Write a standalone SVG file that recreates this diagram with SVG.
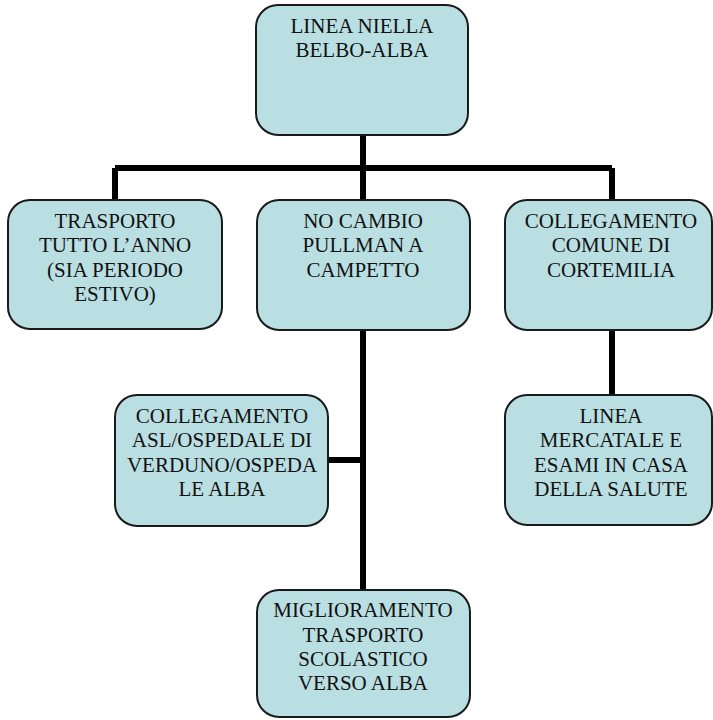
<svg xmlns="http://www.w3.org/2000/svg" width="713" height="720" viewBox="0 0 713 720">
<style>
.box{fill:#badfe2;stroke:#1a1a1a;stroke-width:2}
.t{font-family:'Liberation Serif','Times New Roman',serif;font-size:21px;fill:#111;text-anchor:middle}
.c{fill:none;stroke:#000;stroke-width:6}
</style>
<rect width="713" height="720" fill="#fff"/>
<g id="connectors">
<path class="c" d="M363 135V168M115 168H612M115 168V200M363 168V200M612 168V200"/>
<path class="c" d="M363 330V590M328 460H363"/>
<path class="c" d="M612 330V395"/>
</g>
<g id="n1"><rect class="box" x="256" y="5" width="212" height="130" rx="22"/>
<text class="t"><tspan x="362" y="33">LINEA NIELLA</tspan><tspan x="362" y="57">BELBO-ALBA</tspan></text></g>
<g id="n2"><rect class="box" x="8" y="200" width="214" height="129" rx="22"/>
<text class="t"><tspan x="115" y="228">TRASPORTO</tspan><tspan x="115" y="252">TUTTO L’ANNO</tspan><tspan x="115" y="277">(SIA PERIODO</tspan><tspan x="115" y="301">ESTIVO)</tspan></text></g>
<g id="n3"><rect class="box" x="257" y="200" width="213" height="130" rx="22"/>
<text class="t"><tspan x="363" y="228">NO CAMBIO</tspan><tspan x="363" y="252">PULLMAN A</tspan><tspan x="363" y="277">CAMPETTO</tspan></text></g>
<g id="n4"><rect class="box" x="505" y="200" width="207" height="130" rx="22"/>
<text class="t"><tspan x="611" y="228">COLLEGAMENTO</tspan><tspan x="611" y="252">COMUNE DI</tspan><tspan x="611" y="277">CORTEMILIA</tspan></text></g>
<g id="n5"><rect class="box" x="115" y="395" width="213" height="131" rx="22"/>
<text class="t"><tspan x="222" y="423">COLLEGAMENTO</tspan><tspan x="222" y="447">ASL/OSPEDALE DI</tspan><tspan x="222" y="472">VERDUNO/OSPEDA</tspan><tspan x="222" y="496">LE ALBA</tspan></text></g>
<g id="n6"><rect class="box" x="505" y="395" width="207" height="130" rx="22"/>
<text class="t"><tspan x="611" y="423">LINEA</tspan><tspan x="611" y="447">MERCATALE E</tspan><tspan x="611" y="472">ESAMI IN CASA</tspan><tspan x="611" y="496">DELLA SALUTE</tspan></text></g>
<g id="n7"><rect class="box" x="257" y="590" width="213" height="127" rx="22"/>
<text class="t"><tspan x="363" y="617">MIGLIORAMENTO</tspan><tspan x="363" y="642">TRASPORTO</tspan><tspan x="363" y="666">SCOLASTICO</tspan><tspan x="363" y="690">VERSO ALBA</tspan></text></g>
</svg>
